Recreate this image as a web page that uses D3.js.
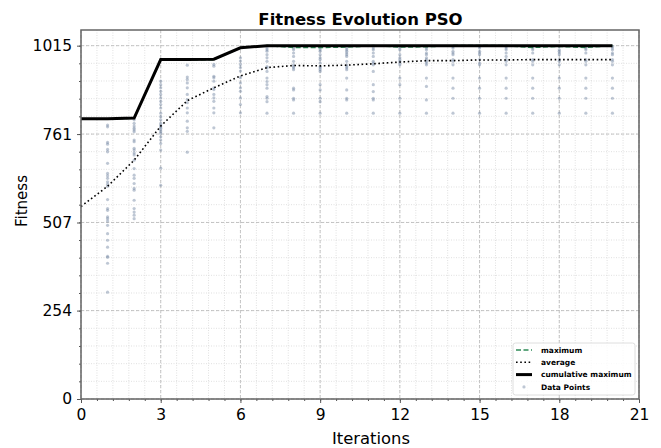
<!DOCTYPE html>
<html>
<head>
<meta charset="utf-8">
<script src="https://cdn.jsdelivr.net/npm/d3@7"></script>
<style>
  html, body { margin: 0; padding: 0; background: #fff; }
  svg { display: block; font-family: "DejaVu Sans", sans-serif; }
</style>
</head>
<body>
<div id="chart"></div>
<script>
const ITERATIONS = d3.range(0, 21);
const MAXIMUM = [804, 804, 807, 975, 975, 975, 1009, 1015, 1010, 1010, 1011, 1015, 1011, 1012, 1015, 1015, 1015, 1010, 1013, 1010, 1015];
const AVERAGE = [553, 611, 686, 784, 857, 894, 928, 952, 958, 957, 959, 963, 968, 972, 972, 974, 974, 975, 975, 975, 975];
const CUM_MAX = [805, 805, 807, 975, 975, 976, 1009, 1015, 1015, 1015, 1015, 1015, 1015, 1015, 1015, 1015, 1015, 1015, 1015, 1015, 1015];

// sampled fitness values per iteration (iteration index -> values)
const POINTS = [
  [],
  [787, 782, 737, 732, 717, 710, 677, 648, 641, 634, 624, 617, 611, 573, 547, 542, 523, 518, 511, 499, 475, 456, 436, 410, 407, 390, 307],
  [802, 792, 784, 778, 773, 768, 744, 739, 720, 715, 707, 701, 686, 662, 643, 634, 619, 605, 600, 571, 547, 537, 528, 518],
  [913, 903, 894, 884, 875, 865, 855, 846, 836, 821, 811, 802, 792, 787, 782, 778, 773, 768, 763, 753, 744, 734, 715, 663, 614],
  [959, 925, 918, 908, 894, 875, 860, 851, 836, 822, 798, 779, 769, 709],
  [961, 956, 927, 923, 913, 894, 889, 875, 865, 855, 836, 822, 779],
  [980, 971, 961, 952, 942, 923, 908, 894, 884, 865, 846, 822],
  [1008, 1003, 999, 989, 980, 970, 955, 951, 941, 922, 912, 903, 893, 869, 864, 854, 821],
  [1008, 1003, 994, 984, 970, 960, 955, 951, 946, 893, 888, 864, 859, 821],
  [1008, 1003, 999, 989, 980, 975, 965, 955, 951, 946, 941, 903, 888, 864, 854, 821],
  [1008, 1003, 999, 994, 989, 984, 970, 960, 955, 951, 946, 922, 888, 864, 859, 821],
  [1008, 1003, 994, 984, 970, 965, 960, 941, 903, 883, 864, 859, 821],
  [1008, 1003, 989, 980, 975, 970, 965, 960, 922, 903, 864, 821],
  [1008, 1003, 994, 989, 980, 975, 970, 965, 960, 922, 898, 859, 821],
  [1013, 1008, 999, 994, 989, 975, 970, 960, 922, 893, 864, 821],
  [1013, 1008, 999, 994, 989, 975, 965, 960, 922, 893, 864, 821],
  [1013, 1008, 1003, 994, 984, 975, 970, 960, 922, 893, 864, 821],
  [1013, 1008, 1003, 994, 975, 970, 960, 922, 893, 864, 821],
  [1013, 1003, 999, 994, 989, 975, 970, 960, 922, 893, 864, 821],
  [1013, 1008, 1003, 994, 975, 970, 960, 922, 893, 864, 821],
  [1013, 1008, 1003, 994, 989, 975, 970, 960, 922, 893, 864, 821]
];

const X_TICKS = [0, 3, 6, 9, 12, 15, 18, 21];
const Y_TICKS = [0, 254, 507, 761, 1015];
const LEGEND_LABELS = ['maximum', 'average', 'cumulative maximum', 'Data Points'];

const width = 661, height = 448;
const margin = { top: 30, right: 22, bottom: 49, left: 81 };
const w = width - margin.left - margin.right;
const h = height - margin.top - margin.bottom;

const svg = d3.select('#chart').append('svg').attr('width', width).attr('height', height);
const g = svg.append('g').attr('transform', `translate(${margin.left},${margin.top})`);

const x = d3.scaleLinear().domain([0, 21]).range([0, w]);
const y = d3.scaleLinear().domain([0, 1060]).range([h, 0]);

const xMinor = d3.range(0, 21.001, 0.6);
const yMinor = d3.range(0, 1060, 1015 / 20);

// minor grid
g.append('g').selectAll('line').data(xMinor).enter().append('line')
  .attr('x1', d => x(d)).attr('x2', d => x(d)).attr('y1', 0).attr('y2', h)
  .attr('stroke', '#d8d8d8').attr('stroke-width', 0.8).attr('stroke-dasharray', '1,1.5');
g.append('g').selectAll('line').data(yMinor).enter().append('line')
  .attr('y1', d => y(d)).attr('y2', d => y(d)).attr('x1', 0).attr('x2', w)
  .attr('stroke', '#d8d8d8').attr('stroke-width', 0.8).attr('stroke-dasharray', '1,1.5');

// major grid
g.append('g').selectAll('line').data(X_TICKS).enter().append('line')
  .attr('x1', d => x(d)).attr('x2', d => x(d)).attr('y1', 0).attr('y2', h)
  .attr('stroke', '#b8b8b8').attr('stroke-width', 0.8).attr('stroke-dasharray', '3,2');
g.append('g').selectAll('line').data(Y_TICKS).enter().append('line')
  .attr('y1', d => y(d)).attr('y2', d => y(d)).attr('x1', 0).attr('x2', w)
  .attr('stroke', '#b8b8b8').attr('stroke-width', 0.8).attr('stroke-dasharray', '3,2');

// scatter
const flat = [];
POINTS.forEach((vals, i) => vals.forEach(v => flat.push({ it: ITERATIONS[i], v })));
g.append('g').selectAll('circle').data(flat).enter().append('circle')
  .attr('cx', d => x(d.it)).attr('cy', d => y(d.v)).attr('r', 1.6)
  .attr('fill', '#6f82a0').attr('fill-opacity', 0.45);

const line = arr => d3.line().x((d, i) => x(ITERATIONS[i])).y(d => y(d))(arr);

g.append('path').attr('d', line(MAXIMUM)).attr('fill', 'none')
  .attr('stroke', '#2e8b57').attr('stroke-width', 1.6).attr('stroke-dasharray', '5,2.5');
g.append('path').attr('d', line(AVERAGE)).attr('fill', 'none')
  .attr('stroke', '#000').attr('stroke-width', 1.6).attr('stroke-dasharray', '1.6,2.6');
g.append('path').attr('d', line(CUM_MAX)).attr('fill', 'none')
  .attr('stroke', '#000').attr('stroke-width', 3);

// axes
const xAxis = g.append('g').attr('transform', `translate(0,${h})`)
  .call(d3.axisBottom(x).tickValues(X_TICKS).tickFormat(d3.format('d')).tickSize(4).tickPadding(6));
const yAxis = g.append('g')
  .call(d3.axisLeft(y).tickValues(Y_TICKS).tickFormat(d3.format('d')).tickSize(4).tickPadding(5));
[xAxis, yAxis].forEach(a => {
  a.select('.domain').remove();
  a.selectAll('.tick line').attr('stroke', '#555').attr('stroke-width', 1);
  a.selectAll('.tick text').attr('font-family', '"DejaVu Sans", sans-serif').attr('font-size', 15.5).attr('fill', '#000');
});
g.append('g').attr('transform', `translate(0,${h})`)
  .call(d3.axisBottom(x).tickValues(xMinor).tickFormat('').tickSize(2))
  .call(a => { a.select('.domain').remove(); a.selectAll('line').attr('stroke', '#555'); });
g.append('g')
  .call(d3.axisLeft(y).tickValues(yMinor).tickFormat('').tickSize(2))
  .call(a => { a.select('.domain').remove(); a.selectAll('line').attr('stroke', '#555'); });

// frame
g.append('rect').attr('width', w).attr('height', h).attr('fill', 'none')
  .attr('stroke', '#666').attr('stroke-width', 1.5);

// titles
svg.append('text').attr('x', 360.5).attr('y', 25).attr('text-anchor', 'middle')
  .attr('font-size', 16.5).attr('font-weight', 'bold').text('Fitness Evolution PSO');
svg.append('text').attr('x', 371).attr('y', 444).attr('text-anchor', 'middle')
  .attr('font-size', 16.4).text('Iterations');
svg.append('text').attr('transform', 'translate(27,201) rotate(-90)')
  .attr('text-anchor', 'middle').attr('font-size', 15).text('Fitness');

// legend
const lg = svg.append('g').attr('transform', 'translate(513,343)');
lg.append('rect').attr('width', 122).attr('height', 52).attr('rx', 2.5)
  .attr('fill', '#fff').attr('fill-opacity', 0.8).attr('stroke', '#d6d6d6').attr('stroke-width', 0.8);
const rows = LEGEND_LABELS.map((label, i) => ({ label, i }));
const item = lg.selectAll('g.item').data(rows).enter().append('g')
  .attr('class', 'item').attr('transform', d => `translate(0,${7 + d.i * 12.3})`);
item.append('text').attr('x', 28).attr('y', 2.7).attr('font-size', 7.5).attr('font-weight', 'bold')
  .text(d => d.label);
item.filter(d => d.i === 0).append('line').attr('x1', 3).attr('x2', 19)
  .attr('stroke', '#2e8b57').attr('stroke-width', 1.6).attr('stroke-dasharray', '5,2.5');
item.filter(d => d.i === 1).append('line').attr('x1', 3).attr('x2', 19)
  .attr('stroke', '#000').attr('stroke-width', 1.6).attr('stroke-dasharray', '1.6,2.6');
item.filter(d => d.i === 2).append('line').attr('x1', 3).attr('x2', 19)
  .attr('stroke', '#000').attr('stroke-width', 3);
item.filter(d => d.i === 3).append('circle').attr('cx', 11).attr('r', 1.6)
  .attr('fill', '#6f82a0').attr('fill-opacity', 0.45);
</script>
</body>
</html>
